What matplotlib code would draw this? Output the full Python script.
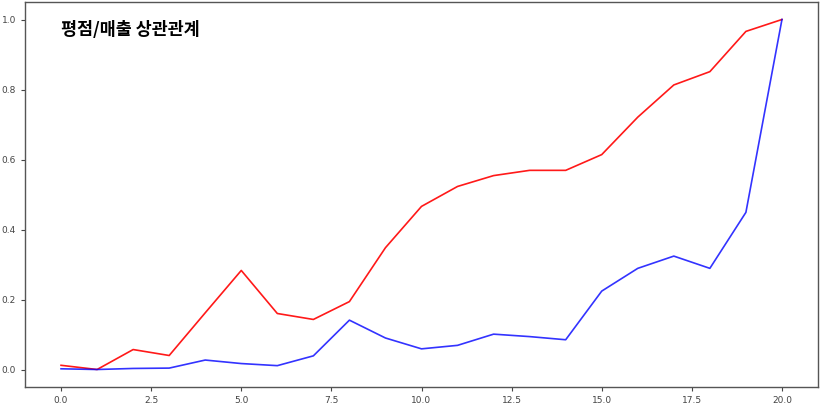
import matplotlib
matplotlib.use("Agg")
import matplotlib.pyplot as plt

plt.rcParams['font.family'] = ['DejaVu Sans']

# 평점 / 매출 (정규화 값)
idx = list(range(21))
rating = [0.012, 0.0, 0.057, 0.040, 0.162, 0.283, 0.160, 0.143, 0.194, 0.348,
          0.466, 0.523, 0.554, 0.569, 0.569, 0.614, 0.721, 0.813, 0.851, 0.966, 1.0]
sales = [0.002, 0.0, 0.003, 0.004, 0.027, 0.017, 0.011, 0.039, 0.141, 0.090,
         0.059, 0.069, 0.101, 0.094, 0.085, 0.224, 0.289, 0.324, 0.289, 0.449, 1.0]
title = "평점/매출 상관관계"

fig = plt.figure(figsize=(8.24, 4.04), dpi=100)
ax = fig.add_axes([25/824, 17/404, 793/824, 385/404])

ax.plot(idx, rating, color="red", linewidth=1.2, alpha=0.9)
ax.plot(idx, sales, color="blue", linewidth=1.2, alpha=0.8)

ax.set_xlim(-1, 21)
ax.set_ylim(-0.05, 1.05)
ax.set_xticks([0, 2.5, 5, 7.5, 10, 12.5, 15, 17.5, 20])
ax.set_xticklabels(["0.0", "2.5", "5.0", "7.5", "10.0", "12.5", "15.0", "17.5", "20.0"])
ax.set_yticks([0, 0.2, 0.4, 0.6, 0.8, 1.0])
ax.set_yticklabels(["0.0", "0.2", "0.4", "0.6", "0.8", "1.0"])
ax.tick_params(labelsize=6.5, colors="#444444", length=3, width=0.8)
for s in ax.spines.values():
    s.set_color("#555555")
    s.set_linewidth(1.0)

ax.text(0.045, 0.928, title, transform=ax.transAxes, fontsize=12.5,
        family=['Noto Sans CJK KR', 'DejaVu Sans'],
        fontweight="heavy", color="black", ha="left", va="center")

fig.savefig("out.png", dpi=100)
